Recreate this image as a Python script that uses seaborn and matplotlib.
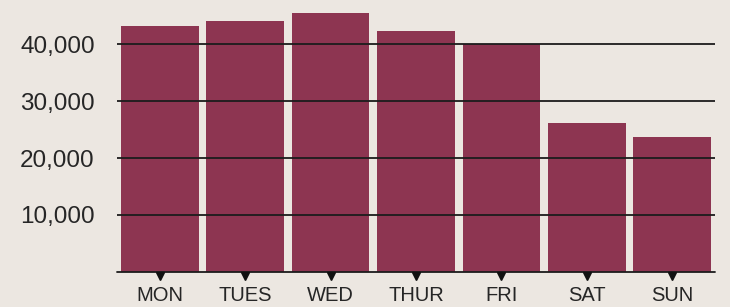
import matplotlib
matplotlib.use("Agg")
import matplotlib.pyplot as plt
import matplotlib.transforms as mtransforms
from matplotlib.ticker import FuncFormatter
import seaborn as sns
import pandas as pd

days = ["MON", "TUES", "WED", "THUR", "FRI", "SAT", "SUN"]
visits = [43300, 44100, 45500, 42400, 40150, 26200, 23700]
y_ticks = [10000, 20000, 30000, 40000]

BG = "#ECE7E1"
BAR = "#8D3551"

sns.set_theme(style="white")
plt.rcParams["font.family"] = ["Liberation Sans", "DejaVu Sans"]

df = pd.DataFrame({"day": days, "visits": visits})

fig = plt.figure(figsize=(7.3, 3.07), dpi=100)
fig.patch.set_facecolor(BG)
ax = fig.add_axes([117 / 730, 1 - 271.7 / 307, 598 / 730, 266.96 / 307])
ax.set_facecolor(BG)

sns.barplot(data=df, x="day", y="visits", color=BAR, saturation=1,
            width=0.91, linewidth=0, ax=ax, zorder=2)

ax.set_xlim(-0.5, len(days) - 0.5)
ax.set_ylim(0, 47000)
ax.set_yticks(y_ticks)
ax.yaxis.set_major_formatter(FuncFormatter(lambda v, p: f"{int(v):,}"))

for v in y_ticks:
    ax.axhline(v, color="#1c1c1c", lw=1.3, zorder=3)
ax.axhline(0, color="#1c1c1c", lw=1.3, zorder=3, clip_on=False)

for s in ax.spines.values():
    s.set_visible(False)

ax.set_xlabel("")
ax.set_ylabel("")
ax.tick_params(axis="y", length=0, pad=16, labelsize=17.5, labelcolor="#262626")
ax.tick_params(axis="x", length=0, pad=10, labelsize=14.5, labelcolor="#262626")

trans = mtransforms.blended_transform_factory(ax.transData, ax.transAxes)
ax.plot(range(len(days)), [-0.015] * len(days), linestyle="none", marker="v",
        markersize=6, color="#111111", transform=trans, clip_on=False, zorder=4)

fig.savefig("out.png", dpi=100, facecolor=BG)
